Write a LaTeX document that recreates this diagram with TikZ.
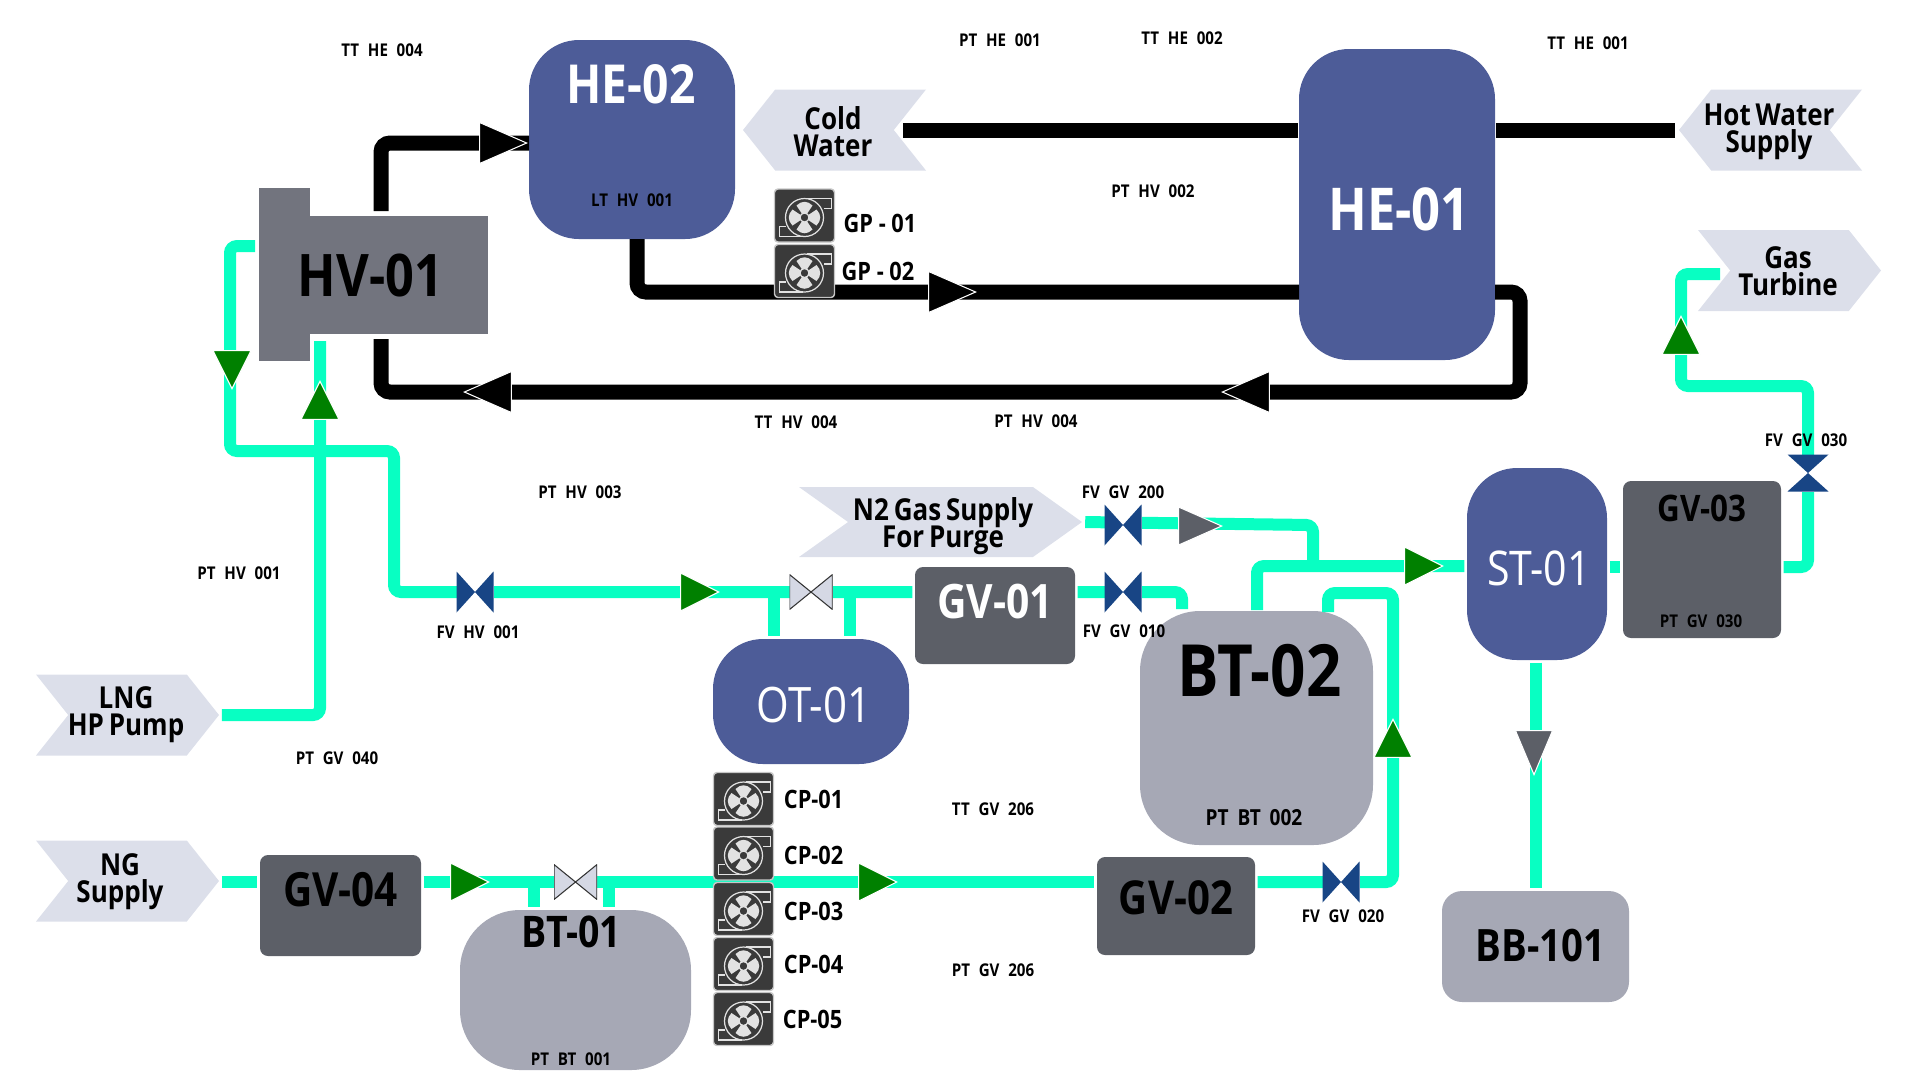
\documentclass[tikz,border=0pt]{standalone}
\usepackage{fontspec}
\setmainfont[FakeStretch=0.86]{Open Sans}
\usetikzlibrary{positioning, calc, shapes.geometric, shapes.symbols}

\definecolor{tankblue}{HTML}{4D5C98}
\definecolor{tankgray}{HTML}{A6A8B5}
\definecolor{boxdark}{HTML}{5C5F67}
\definecolor{hvgray}{HTML}{72747E}
\definecolor{signfill}{HTML}{DCDFEA}
\definecolor{gasteal}{HTML}{08FFC2}
\definecolor{flowgreen}{HTML}{008000}
\definecolor{valveblue}{HTML}{184585}
\definecolor{handfill}{HTML}{D5D8E4}
\definecolor{pumpdark}{HTML}{3A3A3A}
\definecolor{pumpedge}{HTML}{C6C6C6}
\definecolor{pumpblade}{HTML}{E2E2E2}

\begin{document}
\begin{tikzpicture}[
    x=0.1mm, y=-0.1mm,
    tankblock/.style={
        fill=tankblue,
        rounded corners=0.5cm,
        inner sep=0pt
    },
    drumblock/.style={
        fill=tankgray,
        rounded corners=0.6cm,
        inner sep=0pt
    },
    gvblock/.style={
        fill=boxdark,
        rounded corners=0.08cm,
        inner sep=0pt
    },
    signblock/.style={
        shape=signal,
        fill=signfill,
        inner sep=0pt,
        signal pointer angle=103,
        minimum width=1.83cm,
        minimum height=0.81cm
    },
    signtext/.style={
        inner sep=0pt,
        align=center,
        font=\bfseries\fontsize{8.6}{7.6}\selectfont,
        execute at begin node={\spaceskip=0.16em\relax\lineskiplimit=-10pt\relax}
    },
    gaspipe/.style={
        draw=gasteal,
        line width=0.12cm,
        rounded corners=0.07cm,
        shorten <=0.02cm,
        shorten >=0.02cm
    },
    waterpipe/.style={
        draw=black,
        line width=0.15cm,
        rounded corners=0.09cm
    },
    flowarrow/.style={
        shape=isosceles triangle,
        isosceles triangle stretches,
        anchor=apex,
        draw=white,
        line width=0.3pt,
        fill=flowgreen,
        inner sep=0pt,
        minimum width=0.38cm,
        minimum height=0.38cm
    },
    hotarrow/.style={
        flowarrow,
        fill=black,
        minimum width=0.41cm,
        minimum height=0.47cm
    },
    grayarrow/.style={
        flowarrow,
        fill=boxdark,
        minimum width=0.38cm,
        minimum height=0.43cm
    },
    valveblock/.style={
        fill=white,
        inner sep=0pt,
        minimum width=0.37cm,
        minimum height=0.41cm,
        path picture={
            \fill[valveblue] (path picture bounding box.north west)
                -- (path picture bounding box.south east)
                -- (path picture bounding box.north east)
                -- (path picture bounding box.south west) -- cycle;
        }
    },
    valveupright/.style={
        fill=white,
        inner sep=0pt,
        minimum width=0.41cm,
        minimum height=0.37cm,
        path picture={
            \fill[valveblue] (path picture bounding box.north west)
                -- (path picture bounding box.north east)
                -- (path picture bounding box.south west)
                -- (path picture bounding box.south east) -- cycle;
        }
    },
    handvalve/.style={
        fill=white,
        inner sep=0pt,
        minimum width=0.43cm,
        minimum height=0.35cm,
        path picture={
            \draw[fill=handfill, draw=black!80, line width=0.3pt]
                (path picture bounding box.north west)
                -- (path picture bounding box.south east)
                -- (path picture bounding box.north east)
                -- (path picture bounding box.south west) -- cycle;
        }
    },
    pumpblock/.style={
        draw=pumpedge,
        line width=0.4pt,
        fill=pumpdark,
        rounded corners=1pt,
        inner sep=0pt,
        minimum width=0.6cm,
        minimum height=0.53cm,
        path picture={
            \begin{scope}[shift={(path picture bounding box.center)}, sharp corners]
                \draw[draw=pumpblade, line width=0.35pt] (0,2) circle[radius=0.19cm];
                \draw[draw=pumpblade, line width=0.35pt] (2,-17) -- (27,-17) -- (27,-7) -- (19,-7);
                \draw[draw=pumpblade, line width=0.35pt] (-2,21) -- (-25,21) -- (-25,11) -- (-19,11);
                % four fan blades round the hub
                \fill[pumpblade] (3,0) -- (12,-6) .. controls (17,-1) and (17,5) .. (12,10) -- (3,4) -- cycle;
                \fill[pumpblade] (-3,0) -- (-12,-6) .. controls (-17,-1) and (-17,5) .. (-12,10) -- (-3,4) -- cycle;
                \fill[pumpblade] (-2,-1) -- (-8,-10) .. controls (-3,-15) and (3,-15) .. (8,-10) -- (2,-1) -- cycle;
                \fill[pumpblade] (-2,5) -- (-8,14) .. controls (-3,19) and (3,19) .. (8,14) -- (2,5) -- cycle;
                \draw[fill=pumpdark, draw=pumpblade, line width=0.35pt] (0,2) circle[radius=0.045cm];
            \end{scope}
        }
    },
    pumptext/.style={
        anchor=west,
        inner sep=0pt,
        font=\bfseries\fontsize{7.2}{8}\selectfont
    },
    tagtext/.style={
        inner sep=0pt,
        font=\bfseries\fontsize{5}{6}\selectfont,
        execute at begin node={\spaceskip=0.5em\relax}
    },
    titletext/.style={
        inner sep=0pt
    }
]
\useasboundingbox (0,0) rectangle (1920,1080);
% ============================================================
% SIGNS -- supplies and destinations
% ============================================================
\node[signblock, signal to=west, signal from=east] (coldwater) at (834.5,130) {};
\node[signblock, signal to=west, signal from=east] (hotwater) at (1770.5,130) {};
\node[signblock, signal to=east, signal from=west] (gasturbine) at (1789.5,270.5) {};
\node[signblock, signal to=east, signal from=west, minimum width=2.83cm, minimum height=0.7cm,
    signal pointer angle=71] (purge) at (940.5,522) {};
\node[signblock, signal to=east, signal from=west] (lngpump) at (127.5,715) {};
\node[signblock, signal to=east, signal from=west] (ngsupply) at (127.5,881) {};
\node[signtext] (coldwatertext) at (833,132) {Cold\\Water};
\node[signtext] (hotwatertext) at (1769,132) {Hot Water\\Supply};
\node[signtext] (gasturbinetext) at (1788,271) {Gas\\Turbine};
\node[signtext] (purgetext) at (943,526) {N2 Gas Supply\\For Purge};
\node[signtext] (lngpumptext) at (126,714.5) {LNG\\HP Pump};
\node[signtext] (ngsupplytext) at (120,882) {NG\\Supply};
% ============================================================
% VESSELS AND BOXES
% ============================================================
\node[tankblock, minimum width=2.06cm, minimum height=1.99cm] (he02) at (632,139.5) {};
\node[tankblock, minimum width=1.96cm, minimum height=3.11cm] (he01) at (1397,204.5) {};
\node[tankblock, minimum width=1.40cm, minimum height=1.92cm] (st01) at (1537,564) {};
\node[tankblock, minimum width=1.96cm, minimum height=1.25cm] (ot01) at (811,701.5) {};
\node[drumblock, minimum width=2.33cm, minimum height=2.34cm] (bt02) at (1256.5,728) {};
\node[drumblock, minimum width=2.31cm, minimum height=1.60cm] (bt01) at (575.5,990) {};
\node[drumblock, rounded corners=0.2cm, minimum width=1.87cm, minimum height=1.11cm] (bb101) at (1535.5,946.5) {};
\node[gvblock, minimum width=1.60cm, minimum height=0.97cm] (gv01) at (995,615.5) {};
\node[gvblock, minimum width=1.58cm, minimum height=0.98cm] (gv02) at (1176,906) {};
\node[gvblock, minimum width=1.58cm, minimum height=1.57cm] (gv03) at (1702,559.5) {};
\node[gvblock, minimum width=1.61cm, minimum height=1.01cm] (gv04) at (340.5,905.5) {};
\node[fill=hvgray, inner sep=0pt, minimum width=0.51cm, minimum height=1.73cm] (hv01tab) at (284.5,274.5) {};
\node[fill=hvgray, inner sep=0pt, minimum width=2.29cm, minimum height=1.18cm] (hv01) at (373.5,275) {};
% ============================================================
% PIPE ENDS AND RISERS
% ============================================================
\coordinate (hvinlet) at (320,339);
\coordinate (hvoutlet) at (257,246);
\coordinate (hvhotout) at (381,211);
\coordinate (hvhotin) at (381,339);
\coordinate (he02in) at (529,143);
\coordinate (he02out) at (637,239);
\coordinate (he01in) at (1299,292);
\coordinate (he01out) at (1495,292);
\coordinate (otriserleft) at (774,592);
\coordinate (otriserright) at (850,592);
\coordinate (btriserleft) at (534,882);
\coordinate (btriserright) at (609,882);
\coordinate (btupleft) at (1257,612);
\coordinate (btupright) at (1328,614);
\coordinate (turbinein) at (1722,274);
% ============================================================
% GAS PIPES
% ============================================================
\draw[gaspipe] (lngpump.east) -| (hvinlet);
\draw[gaspipe] (hvoutlet) -| (230,451) -| (394,592) -- (gv01.west |- otriserleft);
\draw[gaspipe, shorten <=0pt] (otriserleft) -- (otriserleft |- ot01.north);
\draw[gaspipe, shorten <=0pt] (otriserright) -- (otriserright |- ot01.north);
\draw[gaspipe] (gv01.east |- otriserleft) -- (1182,592) -- (1182,611);
\draw[gaspipe] (purge.east) -- (1313,525) -- (1313,566);
\draw[gaspipe] (btupleft) -- (1257,566) -- (st01.west |- 0,566);
\draw[gaspipe] (gv02.east |- 0,882) -| (1393,593) -| (btupright);
\draw[gaspipe] (st01.east |- 0,567) -- (gv03.west |- 0,567);
\draw[gaspipe] (gv03.east |- 0,567) -| (1808,386) -| (1681,274) -- (turbinein);
\draw[gaspipe] (ngsupply.east |- 0,882) -- (gv04.west |- 0,882);
\draw[gaspipe] (gv04.east |- 0,882) -- (gv02.west |- 0,882);
\draw[gaspipe, shorten <=0pt] (btriserleft) -- (btriserleft |- bt01.north);
\draw[gaspipe, shorten <=0pt] (btriserright) -- (btriserright |- bt01.north);
\draw[gaspipe] (st01.south -| 1536,0) -- (bb101.north -| 1536,0);
% ============================================================
% WATER PIPES
% ============================================================
\draw[waterpipe] (hvhotout) |- (he02in);
\draw[waterpipe] (he01.west |- coldwater.east) -- ([xshift=0.08cm]coldwater.east);
\draw[waterpipe] ([xshift=-0.03cm]hotwater.west) -- (he01.east |- hotwater.west);
\draw[waterpipe] (he02out) |- (he01in);
\draw[waterpipe] (he01out) -| (1520,392) -| (hvhotin);
% ============================================================
% FLOW ARROWS
% ============================================================
\node[flowarrow, shape border rotate=90] (arrowlng) at (320,380) {};
\node[flowarrow, shape border rotate=270] (arrowhv) at (232,390) {};
\node[flowarrow] (arrowot) at (720,592) {};
\node[flowarrow] (arrowcp) at (898,882) {};
\node[flowarrow] (arrowbt) at (490,882) {};
\node[flowarrow, shape border rotate=90] (arrowgv) at (1393,718) {};
\node[flowarrow] (arrowst) at (1444,566) {};
\node[flowarrow, shape border rotate=90] (arrowturbine) at (1681,315) {};
\node[grayarrow] (arrowpurge) at (1223,526) {};
\node[grayarrow, shape border rotate=270, minimum width=0.37cm, minimum height=0.44cm] (arrowbb) at (1534,776) {};
\node[hotarrow] (arrowhe02) at (528,143) {};
\node[hotarrow] (arrowgp) at (977,292) {};
\node[hotarrow, shape border rotate=180] (arrowhvback) at (463,392) {};
\node[hotarrow, shape border rotate=180] (arrowheback) at (1221,392) {};
% ============================================================
% VALVES
% ============================================================
\node[valveblock] (fvhv001) at (475,592) {};
\node[valveblock] (fvgv200) at (1123,525) {};
\node[valveblock] (fvgv010) at (1123,592) {};
\node[valveblock] (fvgv020) at (1341,882) {};
\node[valveupright] (fvgv030) at (1808,473) {};
\node[handvalve] (handot) at (811,592) {};
\node[handvalve] (handbt) at (575.5,882) {};
% ============================================================
% PUMPS
% ============================================================
\node[pumpblock] (gp01) at (804.5,215.5) {};
\node[pumpblock] (gp02) at (804.5,271) {};
\node[pumpblock] (cp01) at (743.5,799) {};
\node[pumpblock] (cp02) at (743.5,853.5) {};
\node[pumpblock] (cp03) at (743.5,909) {};
\node[pumpblock] (cp04) at (743.5,964) {};
\node[pumpblock] (cp05) at (743.5,1019) {};
\node[pumptext] (gp01text) at (843,223) {GP - 01};
\node[pumptext] (gp02text) at (841,271) {GP - 02};
\node[pumptext, right=0.09cm of cp01] (cp01text) {CP-01};
\node[pumptext, right=0.09cm of cp02, yshift=-0.02cm] (cp02text) {CP-02};
\node[pumptext, right=0.09cm of cp03, yshift=-0.02cm] (cp03text) {CP-03};
\node[pumptext, right=0.09cm of cp04] (cp04text) {CP-04};
\node[pumptext, right=0.08cm of cp05] (cp05text) {CP-05};
% ============================================================
% TITLES
% ============================================================
\node[titletext, text=white, font=\bfseries\fontsize{15.3}{17}\selectfont] (he02title) at ($(he02.north)+(-1,45)$) {HE-02};
\node[titletext, text=white, font=\bfseries\fontsize{16.8}{18}\selectfont] (he01title) at ($(he01.center)+(2,5)$) {HE-01};
\node[titletext, font=\bfseries\fontsize{16.7}{19}\selectfont] (hv01title) at ($(hv01.center)+(-3,0)$) {HV-01};
\node[titletext, text=white, font=\fontsize{13.6}{15}\selectfont] (st01title) at ($(st01.center)+(2,4)$) {ST-01};
\node[titletext, text=white, font=\fontsize{13.9}{15}\selectfont] (ot01title) at ($(ot01.center)+(3,4)$) {OT-01};
\node[titletext, text=white, font=\bfseries\fontsize{13.5}{15}\selectfont] (gv01title) at ($(gv01.north)+(0,35)$) {GV-01};
\node[titletext, font=\bfseries\fontsize{13.3}{15}\selectfont] (gv02title) at ($(gv02.north)+(0,41)$) {GV-02};
\node[titletext, font=\bfseries\fontsize{10.4}{12}\selectfont] (gv03title) at ($(gv03.north)+(0,28)$) {GV-03};
\node[titletext, font=\bfseries\fontsize{13.4}{15}\selectfont] (gv04title) at ($(gv04.north)+(0,35)$) {GV-04};
\node[titletext, font=\bfseries\fontsize{20.5}{22}\selectfont] (bt02title) at ($(bt02.north)+(3,60)$) {BT-02};
\node[titletext, font=\bfseries\fontsize{12.4}{14}\selectfont] (bt01title) at ($(bt01.north)+(-4,23)$) {BT-01};
\node[titletext, font=\bfseries\fontsize{12.7}{14}\selectfont] (bb101title) at ($(bb101.center)+(5,-1)$) {BB-101};
% ============================================================
% INSTRUMENT TAGS
% ============================================================
\node[tagtext] (tthe004) at (382,50) {TT HE 004};
\node[tagtext] (pthe001) at (1000,40) {PT HE 001};
\node[tagtext] (tthe002) at (1182,38) {TT HE 002};
\node[tagtext] (tthe001) at (1588,43) {TT HE 001};
\node[tagtext] (lthv001) at (632,200) {LT HV 001};
\node[tagtext] (pthv002) at (1153,191) {PT HV 002};
\node[tagtext] (tthv004) at (796,422) {TT HV 004};
\node[tagtext] (pthv004) at (1036,421) {PT HV 004};
\node[tagtext] (pthv003) at (580,492) {PT HV 003};
\node[tagtext] (pthv001) at (239,573) {PT HV 001};
\node[tagtext] (fvhv001text) at (478,632) {FV HV 001};
\node[tagtext] (fvgv200text) at (1123,492) {FV GV 200};
\node[tagtext] (fvgv010text) at (1124,631) {FV GV 010};
\node[tagtext] (fvgv030text) at (1806,440) {FV GV 030};
\node[tagtext] (fvgv020text) at (1343,916) {FV GV 020};
\node[tagtext] (ptgv040) at (337,758) {PT GV 040};
\node[tagtext] (ttgv206) at (993,809) {TT GV 206};
\node[tagtext] (ptgv206) at (993,970) {PT GV 206};
\node[tagtext] (ptgv030) at (1701,621) {PT GV 030};
\node[tagtext, font=\bfseries\fontsize{6.3}{7}\selectfont, execute at begin node={\spaceskip=0.4em\relax}] (ptbt002) at (1254,818) {PT BT 002};
\node[tagtext] (ptbt001) at (571,1059) {PT BT 001};
\end{tikzpicture}
\end{document}
